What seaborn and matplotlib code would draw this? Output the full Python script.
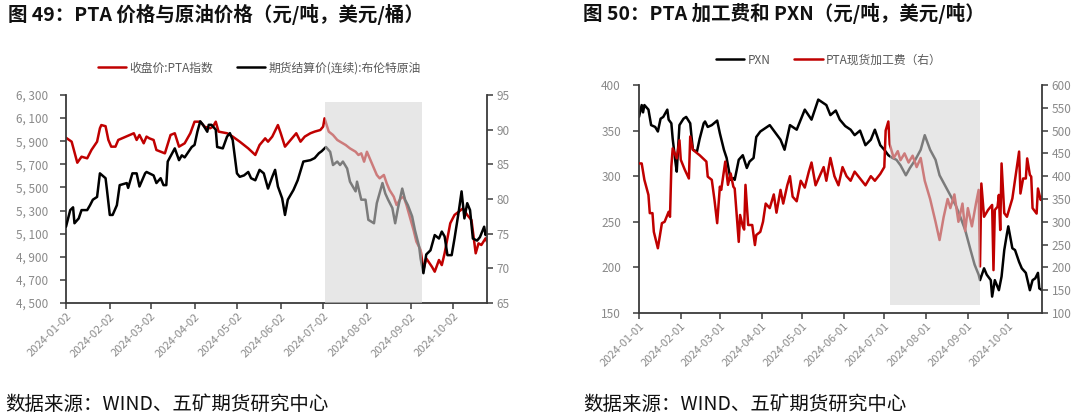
import numpy as np
import pandas as pd
import matplotlib
matplotlib.use("Agg")
import matplotlib.pyplot as plt
import matplotlib.dates as mdates
from matplotlib.lines import Line2D
from matplotlib.ticker import FuncFormatter
import seaborn as sns

# ---------------- Chart 49 data (days since 2024-01-02) ----------------
pta_days = [0, 4, 8, 11, 15, 18, 22, 24, 25, 28, 30, 32, 35, 37, 48, 50, 52, 55, 57, 59, 62, 64, 70, 74, 77, 80, 84, 88, 91,
            95, 98, 102, 104, 106, 108, 114, 118, 123, 129, 134, 137, 141, 143, 146, 150, 152, 155, 159, 163, 166, 169, 173,
            176, 180, 182, 183, 186, 189, 192, 194, 198, 201, 205, 207, 209, 211, 213, 217, 220, 222, 225, 227, 229, 232,
            234, 237, 239, 241, 244, 246, 248, 251, 253, 255, 259, 261, 264, 266, 268, 272, 275, 278, 281, 284, 287, 290,
            292, 294, 297, 298]
pta_index = [5930, 5896, 5714, 5766, 5752, 5824, 5896, 6012, 6040, 6030, 5911, 5853, 5853, 5911, 5969, 5911, 5954, 5882,
             5940, 5925, 5911, 5824, 5795, 5954, 5969, 5853, 5882, 5969, 6069,
             6069, 6026, 6012, 6026, 6069, 5983, 5969, 5940, 5896, 5838, 5781, 5867, 5925, 5896, 5940, 6040, 5969, 5853,
             5911, 5969, 5896, 5940, 5969, 5983, 5997, 6026, 6098, 5983, 5954, 5911, 5896, 5867, 5838, 5809, 5781, 5795,
             5723, 5809, 5694, 5608, 5579, 5608, 5536, 5478, 5420, 5348, 5406, 5420, 5348, 5218, 5132, 5031, 4959, 4786,
             4886, 4814, 4771, 4872, 4828, 4930, 5190, 5262, 5290, 5319, 5262, 5218, 4930, 5016, 5002, 5060, 5031]

brent_days = [0, 3, 5, 6, 9, 11, 15, 17, 19, 22, 24, 28, 29, 31, 33, 36, 38, 43, 44, 47, 50, 52, 56, 57, 62, 64, 67, 69,
              71, 72, 77, 80, 82, 84, 87, 89, 91, 93, 95, 97, 100, 101, 103, 106, 107, 111, 114, 116, 118, 121, 123, 126,
              129, 131, 134, 137, 140, 143, 146, 148, 150, 153, 155, 157, 161, 164, 168, 173, 176, 179, 181, 184, 187,
              189, 192, 194, 196, 199, 201, 203, 205, 206, 209, 212, 214, 218, 220, 224, 226, 228, 231, 233, 235, 238,
              240, 242, 245, 247, 250, 251, 253, 255, 258, 261, 264, 266, 268, 270, 273, 275, 278, 280, 282, 284, 286,
              288, 291, 293, 296, 297, 298]
brent_price = [76.0, 78.4, 78.8, 76.5, 77.2, 78.4, 78.4, 79.1, 79.9, 80.3, 83.7, 83.0, 81.3, 77.7, 77.7, 79.1, 82.0, 82.3,
               81.6, 83.7, 83.7, 81.8, 83.7, 83.9, 83.4, 82.3, 83.0, 82.0, 82.0, 85.4, 87.3, 85.6, 86.3, 86.0, 86.9, 87.5,
               87.8, 89.7, 91.2, 90.7, 89.7, 90.7, 90.7, 90.0, 87.5, 87.3, 89.0, 89.5, 88.5, 83.7, 83.2, 83.4, 83.9, 83.0,
               82.7, 84.2, 83.7, 81.5, 83.2, 84.2, 81.8, 80.1, 77.7, 79.9, 81.3, 82.7, 85.4, 85.6, 85.9, 86.6, 86.9, 87.5,
               86.8, 84.9, 85.4, 84.9, 85.4, 84.4, 82.5, 81.8, 81.1, 82.5, 79.9, 79.9, 77.0, 76.5, 79.4, 82.3, 80.8, 79.9,
               78.7, 76.5, 78.7, 81.5, 79.9, 79.1, 77.5, 75.5, 73.1, 71.4, 69.3, 72.0, 72.6, 74.8, 74.3, 75.3, 74.6, 71.9,
               71.9, 74.3, 78.2, 81.1, 77.2, 79.4, 78.4, 74.3, 74.0, 74.5, 76.0, 74.8, 75.3]

# ---------------- Chart 50 data (days since 2024-01-01) ----------------
pxn_days = [0, 2, 3, 4, 7, 9, 12, 14, 16, 18, 21, 22, 24, 25, 27, 28, 30, 33, 35, 38, 39, 40, 43, 45, 48, 49, 51, 54, 58,
            60, 63, 65, 68, 70, 71, 74, 77, 80, 82, 85, 87, 90, 97, 105, 108, 112, 117, 123, 128, 133, 136, 139, 142, 146,
            149, 153, 157, 160, 164, 168, 172, 175, 179, 182, 185, 188, 191, 194, 198, 201, 205, 209, 212, 216, 220, 223,
            227, 231, 235, 238, 242, 246, 249, 252, 253, 256, 258, 261, 262, 264, 267, 269, 271, 273, 274, 277, 279, 282,
            284, 287, 290, 292, 294, 296, 297, 299]
pxn_value = [365, 378, 370, 378, 373, 356, 354, 349, 363, 365, 373, 362, 358, 341, 316, 305, 356, 363, 365, 358, 343, 329,
             327, 341, 358, 360, 354, 356, 361, 347, 329, 320, 296, 298, 296, 318, 323, 309, 316, 320, 343, 349, 356, 340,
             329, 356, 351, 373, 362, 384, 381, 378, 367, 372, 362, 355, 351, 345, 350, 334, 340, 351, 334, 329, 323, 320,
             318, 312, 301, 309, 318, 329, 345, 329, 318, 301, 290, 279, 268, 257, 241, 219, 203, 192, 186, 199, 192, 186,
             168, 186, 175, 190, 219, 237, 245, 221, 219, 206, 199, 194, 175, 186, 188, 194, 177, 175]

fee_days = [0, 2, 4, 7, 8, 10, 11, 14, 17, 19, 22, 23, 24, 25, 28, 30, 31, 34, 37, 38, 40, 45, 50, 51, 54, 56, 58, 60, 61,
            64, 66, 68, 70, 71, 74, 75, 77, 78, 79, 81, 84, 86, 87, 90, 92, 94, 97, 100, 102, 105, 107, 110, 112, 114,
            117, 120, 123, 126, 128, 131, 134, 137, 139, 142, 145, 148, 151, 154, 157, 160, 164, 168, 172, 175, 179, 182,
            183, 185, 186, 189, 192, 194, 197, 200, 203, 206, 209, 212, 216, 220, 223, 226, 229, 231, 234, 237, 240, 242,
            244, 247, 250, 252, 253, 254, 256, 259, 262, 263, 264, 266, 267, 268, 269, 271, 273, 277, 282, 283, 285, 287,
            288, 290, 291, 292, 294, 295, 296, 298, 299]
fee_value = [428, 428, 392, 359, 319, 319, 278, 242, 297, 300, 322, 311, 421, 461, 439, 479, 436, 414, 395, 487, 458, 446,
             432, 399, 392, 348, 297, 377, 370, 432, 381, 406, 377, 373, 256, 315, 290, 283, 381, 293, 293, 249, 271, 278,
             300, 340, 330, 360, 320, 370, 340, 380, 400, 355, 345, 390, 375, 410, 430, 380, 400, 420, 390, 440, 400, 380,
             420, 400, 390, 410, 395, 380, 400, 390, 405, 420, 500, 520, 470, 440, 455, 435, 450, 430, 445, 420, 440, 390,
             350, 300, 260, 310, 350, 330, 360, 300, 340, 280, 330, 290, 340, 370, 202, 384, 311, 326, 337, 194, 326, 333,
             359, 282, 428, 319, 311, 351, 454, 362, 395, 395, 439, 403, 399, 330, 322, 318, 373, 348, 355]

left_ticks = [4500, 4700, 4900, 5100, 5300, 5500, 5700, 5900, 6100, 6300]
brent_ticks = [65, 70, 75, 80, 85, 90, 95]
pxn_ticks = [150, 200, 250, 300, 350, 400]
fee_ticks = [100, 150, 200, 250, 300, 350, 400, 450, 500, 550, 600]

title49 = "图 49：PTA 价格与原油价格（元/吨，美元/桶）"
title50 = "图 50：PTA 加工费和 PXN（元/吨，美元/吨）"
source = "数据来源：WIND、五矿期货研究中心"
lab_pta = "收盘价:PTA指数"
lab_brent = "期货结算价(连续):布伦特原油"
lab_pxn = "PXN"
lab_fee = "PTA现货加工费（右）"

# ---------------- styling ----------------
sns.set_theme(style="ticks")
plt.rcParams["font.family"] = ["Noto Sans CJK SC", "DejaVu Sans"]
plt.rcParams["axes.unicode_minus"] = False

RED = "#c00000"
BLACK = "#000000"
TICKC = "#8a8a8a"
SPINE = "#3a3a3a"

base49 = pd.Timestamp("2024-01-02")
base50 = pd.Timestamp("2024-01-01")
df_pta = pd.DataFrame({"date": base49 + pd.to_timedelta(pta_days, unit="D"), "v": pta_index})
df_brent = pd.DataFrame({"date": base49 + pd.to_timedelta(brent_days, unit="D"), "v": brent_price})
df_pxn = pd.DataFrame({"date": base50 + pd.to_timedelta(pxn_days, unit="D"), "v": pxn_value})
df_fee = pd.DataFrame({"date": base50 + pd.to_timedelta(fee_days, unit="D"), "v": fee_value})

fig = plt.figure(figsize=(10.8, 4.16), dpi=100)


def style_pair(ax, ax2, xl, xr, fmt_left):
    for s in ["top", "right"]:
        ax.spines[s].set_visible(False)
    for s in ["top", "left", "bottom"]:
        ax2.spines[s].set_visible(False)
    for sp in [ax.spines["left"], ax.spines["bottom"], ax2.spines["right"]]:
        sp.set_color(SPINE)
        sp.set_linewidth(1.3)
    ax.set_xlim(xl, xr)
    ax.tick_params(axis="y", direction="out", length=4, width=1.1, color=SPINE, labelcolor=TICKC,
                   labelsize=8.5, pad=9)
    ax2.tick_params(axis="y", direction="out", length=4, width=1.1, color=SPINE, labelcolor=TICKC,
                    labelsize=8.5, pad=3)
    ax.tick_params(axis="x", direction="out", length=4, width=1.1, color=SPINE, labelcolor=TICKC,
                   labelsize=8, pad=2)
    ax.xaxis.set_major_formatter(mdates.DateFormatter("%Y-%m-%d"))
    for lab in ax.get_xticklabels():
        lab.set_rotation(45)
        lab.set_ha("right")
        lab.set_rotation_mode("anchor")
    ax.set_xlabel("")
    ax.set_ylabel("")
    ax2.set_ylabel("")
    ax.grid(False)
    ax2.grid(False)
    if fmt_left:
        ax.yaxis.set_major_formatter(FuncFormatter(lambda v, _: f"{int(v):,}".replace(",", ", ")))


# ---------------- Chart 49 ----------------
ax1 = fig.add_axes([66 / 1080, 1 - 303 / 416, (487 - 66) / 1080, (303 - 95) / 416])
ax1b = ax1.twinx()
sns.lineplot(data=df_pta, x="date", y="v", ax=ax1, color=RED, lw=1.8, estimator=None, sort=False)
sns.lineplot(data=df_brent, x="date", y="v", ax=ax1b, color=BLACK, lw=1.8, estimator=None, sort=False)
ax1.set_ylim(left_ticks[0], left_ticks[-1])
ax1.set_yticks(left_ticks)
ax1b.set_ylim(brent_ticks[0], brent_ticks[-1])
ax1b.set_yticks(brent_ticks)
ax1.xaxis.set_major_locator(mdates.MonthLocator(bymonthday=2))
style_pair(ax1, ax1b, base49, base49 + pd.Timedelta(days=298), True)
ax1b.axvspan(pd.Timestamp("2024-07-03"), pd.Timestamp("2024-09-10"), ymin=0, ymax=0.968,
             color="#d6d6d6", alpha=0.58, lw=0, zorder=10)

# ---------------- Chart 50 ----------------
ax2 = fig.add_axes([639 / 1080, 1 - 313 / 416, (1042 - 639) / 1080, (313 - 85) / 416])
ax2b = ax2.twinx()
sns.lineplot(data=df_pxn, x="date", y="v", ax=ax2, color=BLACK, lw=1.8, estimator=None, sort=False)
sns.lineplot(data=df_fee, x="date", y="v", ax=ax2b, color=RED, lw=1.8, estimator=None, sort=False)
ax2.set_ylim(pxn_ticks[0], pxn_ticks[-1])
ax2.set_yticks(pxn_ticks)
ax2b.set_ylim(fee_ticks[0], fee_ticks[-1])
ax2b.set_yticks(fee_ticks)
ax2.xaxis.set_major_locator(mdates.MonthLocator(bymonthday=1))
style_pair(ax2, ax2b, base50, base50 + pd.Timedelta(days=299), False)
ax2b.axvspan(pd.Timestamp("2024-07-05"), pd.Timestamp("2024-09-10"), ymin=0.035, ymax=0.934,
             color="#d6d6d6", alpha=0.58, lw=0, zorder=10)

# ---------------- legends ----------------
leg_kw = dict(frameon=False, ncol=2, fontsize=8.5, handlelength=2.4, handletextpad=0.3,
              columnspacing=2.0, borderaxespad=0, borderpad=0, labelcolor="#595959")
fig.legend([Line2D([], [], color=RED, lw=1.8), Line2D([], [], color=BLACK, lw=1.8)],
           [lab_pta, lab_brent], loc="center", bbox_to_anchor=(259.5 / 1080, 1 - 68 / 416), **leg_kw)
fig.legend([Line2D([], [], color=BLACK, lw=1.8), Line2D([], [], color=RED, lw=1.8)],
           [lab_pxn, lab_fee], loc="center", bbox_to_anchor=(829 / 1080, 1 - 60 / 416), **leg_kw)

# ---------------- titles & sources ----------------
fig.text(8 / 1080, 1 - 14 / 416, title49, fontsize=14, fontweight="bold", va="center", ha="left", color="#111111")
fig.text(583 / 1080, 1 - 14 / 416, title50, fontsize=14, fontweight="bold", va="center", ha="left", color="#111111")
fig.text(5 / 1080, 1 - 404 / 416, source, fontsize=14, va="center", ha="left", color="#111111")
fig.text(583 / 1080, 1 - 404 / 416, source, fontsize=14, va="center", ha="left", color="#111111")

fig.savefig("out.png", dpi=100)
